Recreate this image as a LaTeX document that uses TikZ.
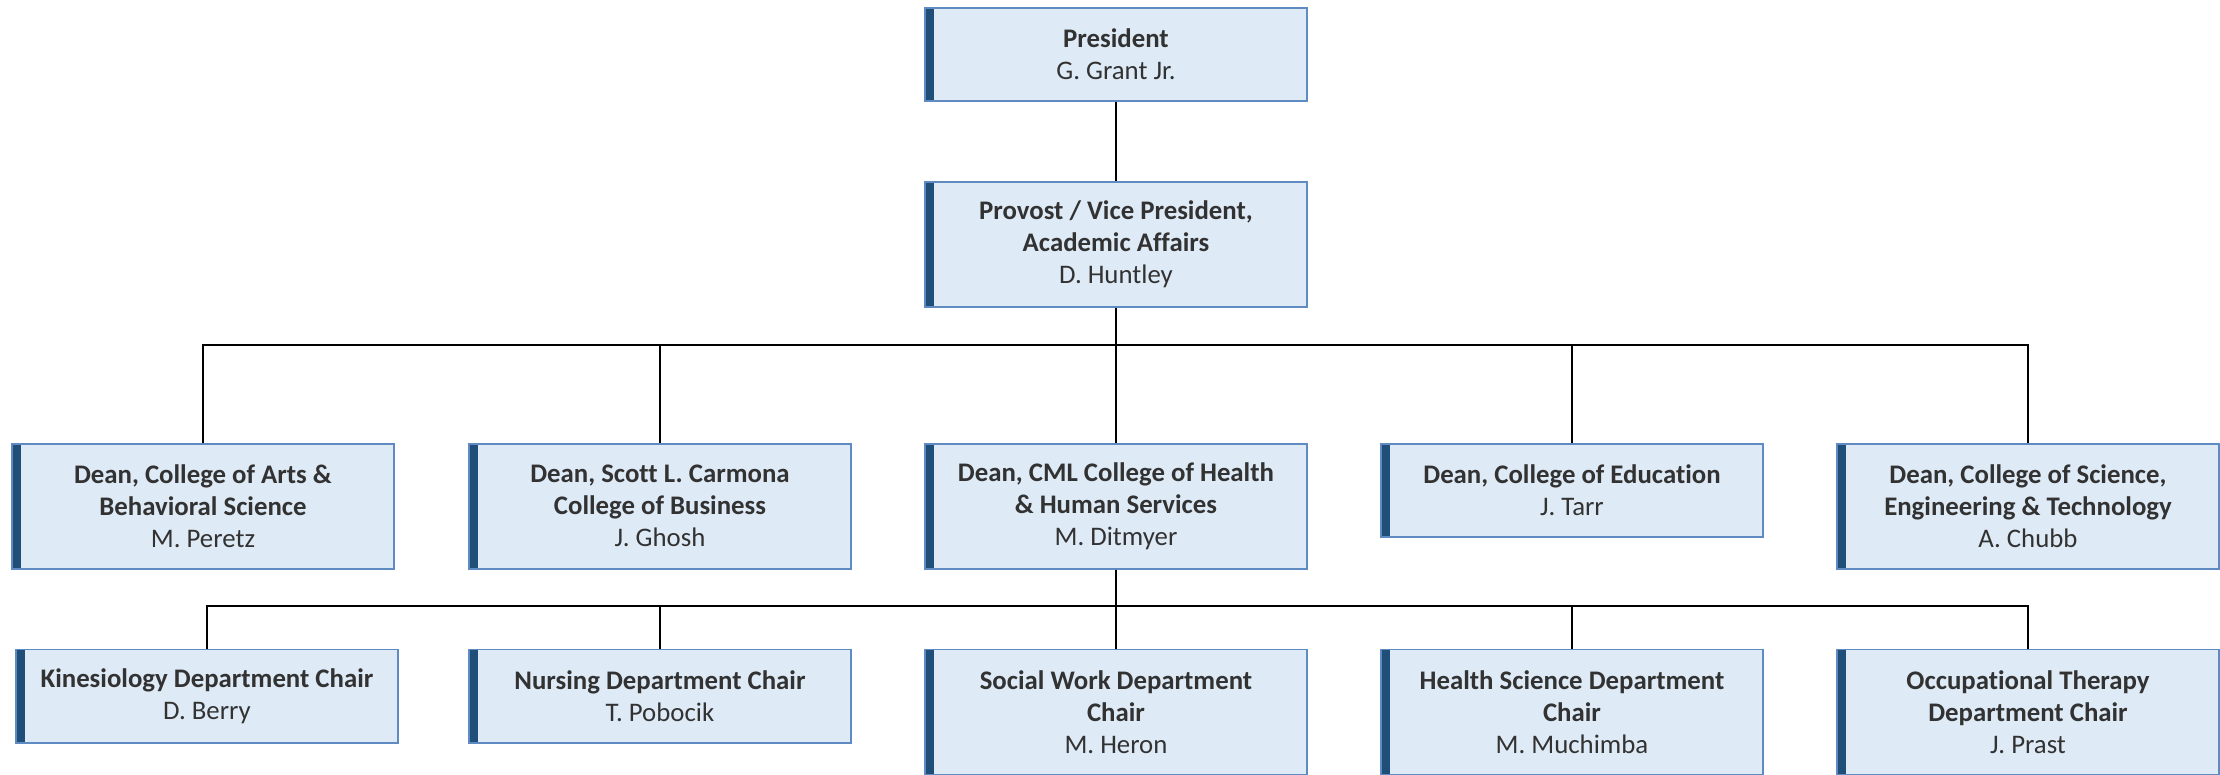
\documentclass[tikz,border=0pt]{standalone}
\usepackage{fontspec}
\setmainfont{Carlito}[Ligatures=NoCommon]
\usetikzlibrary{positioning}

\definecolor{boxfill}{RGB}{222,234,246}
\definecolor{boxline}{RGB}{96,138,194}
\definecolor{boxbar}{RGB}{31,78,121}
\definecolor{boxtext}{RGB}{50,50,50}

\tikzset{
  unit/.style={draw=boxline, line width=0.8pt, fill=boxfill, text=boxtext,
    minimum width=191.2pt, minimum height=46.7pt, inner sep=0pt, align=center,
    font=\fontsize{13.4}{16}\selectfont,
    path picture={\fill[boxbar] (path picture bounding box.south west)
      rectangle ([xshift=4.5pt]path picture bounding box.north west);}},
  tallunit/.style={unit, minimum height=62.5pt},
  link/.style={draw=black, line width=1pt},
}

\begin{document}
\begin{tikzpicture}

% president and provost
\node[unit]                       (pres) {\textbf{President}\\G. Grant Jr.};
\node[tallunit, below=39.7pt of pres] (prov) {\textbf{Provost / Vice President,}\\\textbf{Academic Affairs}\\D. Huntley};
\draw[link] (pres) -- (prov);

\useasboundingbox ([xshift=-558pt,yshift=3.5pt]pres.north) rectangle ++(1110pt,-387.5pt);

% deans
\node[tallunit, below=67.5pt of prov] (chs) {\textbf{Dean, CML College of Health}\\\textbf{\& Human Services}\\M. Ditmyer};
\node[tallunit, left=36pt of chs]      (business) {\textbf{Dean, Scott L. Carmona}\\\textbf{College of Business}\\J. Ghosh};
\node[tallunit, left=36.5pt of business] (arts) {\textbf{Dean, College of Arts \&}\\\textbf{Behavioral Science}\\M. Peretz};
\node[unit, right=36pt of chs.north east, anchor=north west] (edu) {\textbf{Dean, College of Education}\\J. Tarr};
\node[tallunit, right=36pt of edu.north east, anchor=north west] (sci) {\textbf{Dean, College of Science,}\\\textbf{Engineering \& Technology}\\A. Chubb};

\draw[link] (prov.south) -- ++(0,-18.5pt) coordinate (bus1);
\draw[link] (bus1) -- (chs);
\foreach \n in {arts,business,edu,sci}
  \draw[link] (bus1) -| (\n.north);

% department chairs
\node[tallunit, below=39.5pt of chs] (social) {\textbf{Social Work Department}\\\textbf{Chair}\\M. Heron};
\node[unit, left=36pt of social.north west, anchor=north east] (nurs) {\textbf{Nursing Department Chair}\\T. Pobocik};
\node[unit, left=34.5pt of nurs.north west, anchor=north east] (kin) {\textbf{Kinesiology Department Chair}\\D. Berry};
\node[tallunit, right=36pt of social] (hsci) {\textbf{Health Science Department}\\\textbf{Chair}\\M. Muchimba};
\node[tallunit, right=36pt of hsci]   (ot) {\textbf{Occupational Therapy}\\\textbf{Department Chair}\\J. Prast};

\draw[link] (chs.south) -- ++(0,-18pt) coordinate (bus2);
\draw[link] (bus2) -- (social);
\foreach \n in {kin,nurs,hsci,ot}
  \draw[link] (bus2) -| (\n.north);

\end{tikzpicture}
\end{document}
